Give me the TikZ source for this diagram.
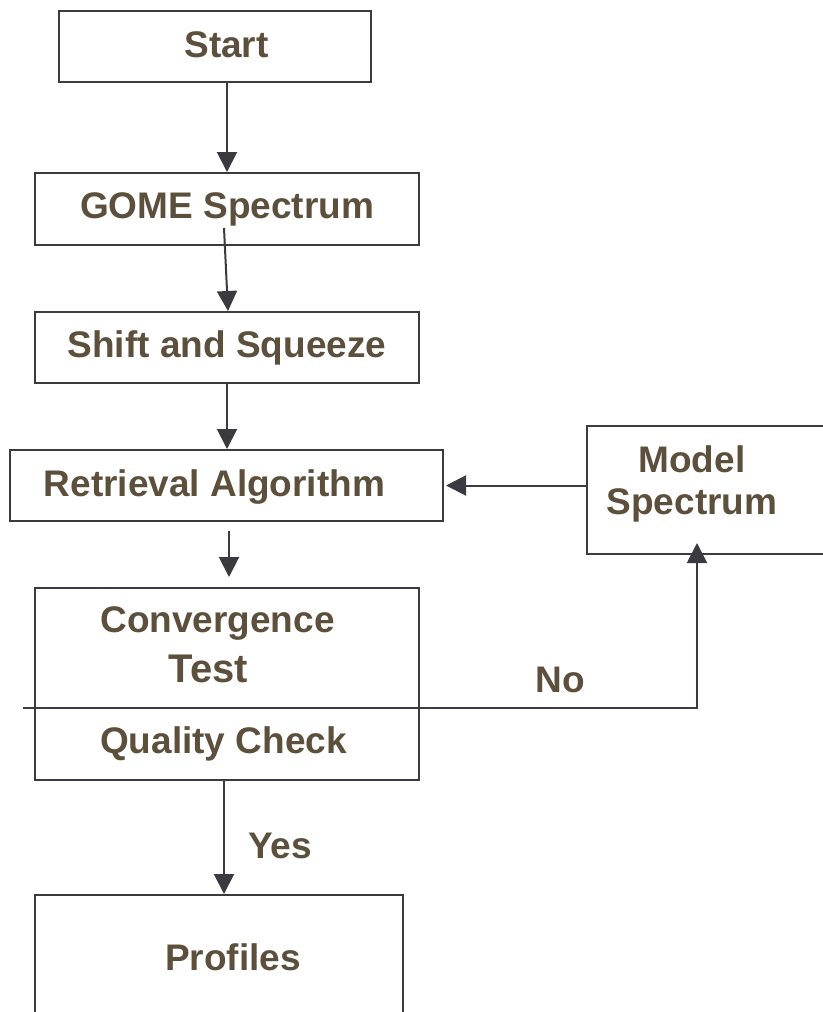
\documentclass[tikz,border=0pt]{standalone}
\usepackage{fontspec}
\setmainfont{Liberation Sans}
\usetikzlibrary{positioning,arrows.meta,calc}
\definecolor{linegray}{RGB}{58,58,64}
\definecolor{txtbrown}{RGB}{92,80,61}

\begin{document}
\begin{tikzpicture}[
  x=1pt, y=-1pt,
  box/.style={rectangle, draw=linegray, line width=2pt, inner sep=0pt},
  txt/.style={font=\fontsize{37}{42}\selectfont\bfseries, text=txtbrown, inner sep=0pt},
  arrow/.style={-{Triangle[length=20pt,width=20pt]}, draw=linegray, line width=2pt}
]
\useasboundingbox (0,0) rectangle (822,1012);

% Main column
\node[box, minimum width=312pt, minimum height=71pt] (start) at (215,46.5) {};
\node[txt, anchor=base] (starttxt) at (226.5,57) {Start};
\node[box, txt, minimum width=384pt, minimum height=72pt] (gome) at (227,209) {GOME Spectrum};
\node[box, txt, minimum width=384pt, minimum height=71pt] (shift) at (227,347.5) {Shift and Squeeze};
\node[box, minimum width=433pt, minimum height=71pt] (retr) at (226.5,485.5) {};
\node[txt, anchor=base] (retrtxt) at (214.5,496) {Retrieval Algorithm};

% Convergence test
\node[box, minimum width=384pt, minimum height=192pt] (conv) at (227,684) {};
\node[txt, anchor=base] (convtxt) at (217.5,632) {Convergence};
\node[txt, anchor=base, font=\fontsize{40}{44}\selectfont\bfseries] (testtxt) at (208.5,682) {Test};
\node[txt, anchor=base] (qualtxt) at (223.5,753) {Quality Check};

% Output
\node[box, minimum width=368pt, minimum height=145pt] (profiles) at (219,967.5) {};
\node[txt, anchor=base] (proftxt) at (233,970) {Profiles};

% Side loop
\node[box, minimum width=270pt, minimum height=128pt] (model) at (722,490) {};
\node[txt, align=center] (modeltxt) at (692,483.5) {Model\\Spectrum};

% Labels
\node[txt, anchor=base] (yes) at (280,858) {Yes};
\node[txt, anchor=base] (no) at (560,692) {No};

% Arrows - down the column
\draw[arrow] (start.south -| gome.north) -- (gome.north);
\draw[arrow] ($(gome.center)+(-3,19)$) -- ($(shift.north)+(1,0)$);
\draw[arrow] (shift.south) -- (shift.south |- retr.north);
\draw[arrow] ($(retr.south)+(2.5,9)$) -- ($(conv.north)+(2,-10)$);
\draw[arrow] (conv.south) ++(-3,0) coordinate (ys) -- (ys |- profiles.north);

% Arrows - loop back
\coordinate (nostart) at (23,708);
\draw[arrow] (nostart) -| ($(model.south)+(-25,-12)$);
\draw[arrow] (model.west |- retr.east) -- ($(retr.east)+(2,0)$);

\end{tikzpicture}
\end{document}
